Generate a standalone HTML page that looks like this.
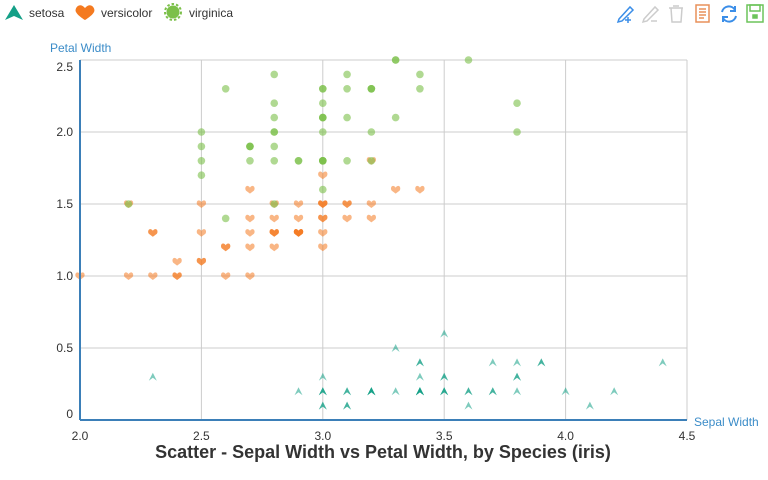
<!DOCTYPE html>
<html><head><meta charset="utf-8"><style>
body{margin:0;background:#fff;font-family:"Liberation Sans",sans-serif}
svg{display:block}
</style></head><body>
<svg id="c" width="768" height="480">
<g id="legend">
 <g><path d="M5,20 L14,5 L23,20 L14,16 Z" fill="#14a087"/><text x="29" y="17" font-size="12" fill="#333">setosa</text></g>
 <g><path d="M85,8 C79,1 74,9 76,12 C78,16 85,20 85,20 C85,20 92,16 94,12 C96,9 91,1 85,8 Z" fill="#f47a20"/><text x="101" y="17" font-size="12" fill="#333">versicolor</text></g>
 <g><circle cx="173" cy="12" r="6.5" fill="#7cc04a"/><circle cx="173" cy="12" r="8" fill="none" stroke="#7cc04a" stroke-width="2" stroke-dasharray="2.5 2"/><text x="189" y="17" font-size="12" fill="#333">virginica</text></g>
</g>
<g id="toolbar">
 <g stroke="#3b8ee8" fill="none" stroke-width="1.5"><path d="M619,19 L630,7 L633,10 L622,21 L618,22 Z"/><path d="M628,17 v6 M625,20 h6"/></g>
 <g stroke="#ccc" fill="none" stroke-width="1.5"><path d="M644,19 L655,7 L658,10 L647,21 L643,22 Z"/><path d="M651,21 h6"/></g>
 <g stroke="#ccc" fill="none" stroke-width="1.5"><path d="M669,8 h14 M673,6 h6 M671,8 L672,22 H681 L682,8"/></g>
 <g stroke="#e9915a" fill="none" stroke-width="1.5"><rect x="696" y="5" width="13" height="17"/><path d="M699,9 h7 M699,12 h7 M699,15 h7 M699,18 h5"/></g>
 <g stroke="#3b8ee8" fill="none" stroke-width="2"><path d="M722,12 A7,7 0 0 1 735,10 M736,16 A7,7 0 0 1 723,18"/><path d="M735,6 v5 h-5 M723,22 v-5 h5"/></g>
 <g stroke="#6cc45a" fill="none" stroke-width="1.5"><rect x="747" y="5" width="16" height="17"/><rect x="750" y="5" width="10" height="6"/><rect x="753" y="15" width="4" height="3" fill="#6cc45a"/></g>
</g>
<text x="50" y="52" font-size="12" fill="#3b8cc8">Petal Width</text>
<text x="694" y="426" font-size="12" fill="#3b8cc8">Sepal Width</text>
<g id="grid"></g>
<g id="xt"></g>
<g id="yt"></g>
<g id="marks"></g>
<line x1="80" y1="420" x2="687" y2="420" stroke="#3b7fb8" stroke-width="2"/>
<line x1="80" y1="60" x2="80" y2="420" stroke="#3b7fb8" stroke-width="2"/>
<text x="383" y="458" font-size="18" font-weight="bold" fill="#333" text-anchor="middle">Scatter - Sepal Width vs Petal Width, by Species (iris)</text>
</svg>
<script>
const xTicks=[2.0,2.5,3.0,3.5,4.0,4.5];
const yTicks=[0,0.5,1.0,1.5,2.0,2.5];
const setosaX=[3.5,3.0,3.2,3.1,3.6,3.9,3.4,3.4,2.9,3.1,3.7,3.4,3.0,3.0,4.0,4.4,3.9,3.5,3.8,3.8,3.4,3.7,3.6,3.3,3.4,3.0,3.4,3.5,3.4,3.2,3.1,3.4,4.1,4.2,3.1,3.2,3.5,3.6,3.0,3.4,3.5,2.3,3.2,3.5,3.8,3.0,3.8,3.2,3.7,3.3];
const setosaY=[0.2,0.2,0.2,0.2,0.2,0.4,0.3,0.2,0.2,0.1,0.2,0.2,0.1,0.1,0.2,0.4,0.4,0.3,0.3,0.3,0.2,0.4,0.2,0.5,0.2,0.2,0.4,0.2,0.2,0.2,0.2,0.4,0.1,0.2,0.1,0.2,0.2,0.1,0.2,0.2,0.3,0.3,0.2,0.6,0.4,0.3,0.2,0.2,0.2,0.2];
const versiX=[3.2,3.2,3.1,2.3,2.8,2.8,3.3,2.4,2.9,2.7,2.0,3.0,2.2,2.9,2.9,3.1,3.0,2.7,2.2,2.5,3.2,2.8,2.5,2.8,2.9,3.0,2.8,3.0,2.9,2.6,2.4,2.4,2.7,2.7,3.0,3.4,3.1,2.3,3.0,2.5,2.6,3.0,2.6,2.3,2.7,3.0,2.9,2.9,2.5,2.8];
const versiY=[1.4,1.5,1.5,1.3,1.5,1.3,1.6,1.0,1.3,1.4,1.0,1.5,1.0,1.4,1.3,1.4,1.5,1.0,1.5,1.1,1.8,1.3,1.5,1.2,1.3,1.4,1.4,1.7,1.5,1.0,1.1,1.0,1.2,1.6,1.5,1.6,1.5,1.3,1.3,1.3,1.2,1.4,1.2,1.0,1.3,1.2,1.3,1.3,1.1,1.3];
const virgX=[3.3,2.7,3.0,2.9,3.0,3.0,2.5,2.9,2.5,3.6,3.2,2.7,3.0,2.5,2.8,3.2,3.0,3.8,2.6,2.2,3.2,2.8,2.8,2.7,3.3,3.2,2.8,3.0,2.8,3.0,2.8,3.8,2.8,2.8,2.6,3.0,3.4,3.1,3.0,3.1,3.1,3.1,2.7,3.2,3.3,3.0,2.5,3.0,3.4,3.0];
const virgY=[2.5,1.9,2.1,1.8,2.2,2.1,1.7,1.8,1.8,2.5,2.0,1.9,2.1,2.0,2.4,2.3,1.8,2.2,2.3,1.5,2.3,2.0,2.0,1.8,2.1,1.8,1.8,1.8,2.1,1.6,1.9,2.0,2.2,1.5,1.4,2.3,2.4,1.8,1.8,2.1,2.4,2.3,1.9,2.3,2.5,2.3,1.9,2.0,2.3,1.8];
const NS='http://www.w3.org/2000/svg';
const sx=v=>80+(v-2.0)*242.8;
const sy=v=>420-v*144;
function mk(tag,attrs,parent){const e=document.createElementNS(NS,tag);for(const k in attrs)e.setAttribute(k,attrs[k]);parent.appendChild(e);return e;}
const grid=document.getElementById('grid'),xt=document.getElementById('xt'),yt=document.getElementById('yt'),marks=document.getElementById('marks');
const yMax=yTicks[yTicks.length-1];
xTicks.forEach(t=>{const l=mk('line',{x1:sx(t),x2:sx(t),y1:60,y2:420,stroke:'#ccc'},grid);


const tx=mk('text',{x:sx(t),y:440,'font-size':12,fill:'#333','text-anchor':'middle'},xt);tx.textContent=t.toFixed(1);

});
yTicks.forEach(t=>{const l=mk('line',{x1:80,x2:687,y1:sy(t),y2:sy(t),stroke:'#ccc'},grid);


let ty=sy(t)+4; if(t===0) ty=sy(t)-2; if(t===yMax) ty=sy(t)+11;
const tx=mk('text',{x:73,y:ty,'font-size':12,fill:'#333','text-anchor':'end'},yt);tx.textContent=t===0?'0':t.toFixed(1);

});
setosaX.forEach((x,i)=>{const cx=sx(x),cy=sy(setosaY[i]);
const p=mk('path',{d:`M${cx-4},${cy+4} L${cx},${cy-4} L${cx+4},${cy+4} L${cx},${cy+1} Z`,fill:'#14a087','fill-opacity':0.55},marks);

});
versiX.forEach((x,i)=>{const cx=sx(x),cy=sy(versiY[i]);
const p=mk('path',{d:`M${cx},${cy-2} C${cx-3},${cy-6} ${cx-6},${cy-2} ${cx-4},${cy+1} L${cx},${cy+4} L${cx+4},${cy+1} C${cx+6},${cy-2} ${cx+3},${cy-6} ${cx},${cy-2} Z`,fill:'#f47a20','fill-opacity':0.55},marks);

});
virgX.forEach((x,i)=>{const cx=sx(x),cy=sy(virgY[i]);
const p=mk('circle',{cx:cx,cy:cy,r:3.8,fill:'#7cc04a','fill-opacity':0.6},marks);

});
</script>
</body></html>
